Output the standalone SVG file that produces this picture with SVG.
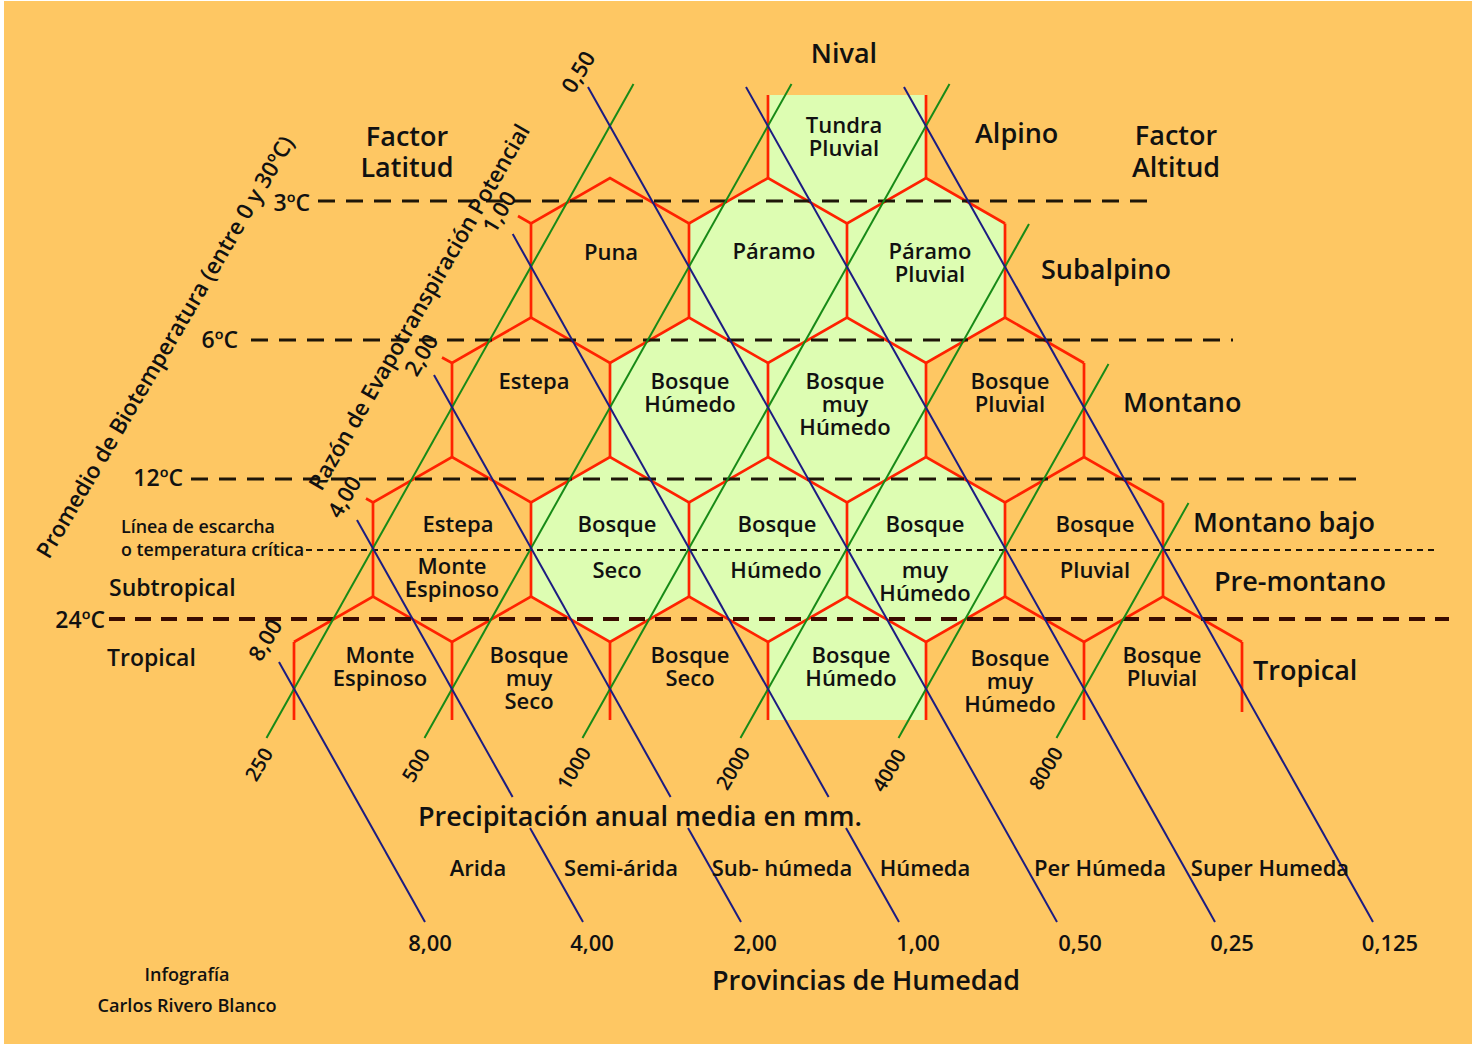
<svg xmlns="http://www.w3.org/2000/svg" width="1474" height="1044" viewBox="0 0 1474 1044">
<style>
.t{font-family:"Open Sans","Noto Sans","DejaVu Sans",sans-serif;font-weight:600;fill:#111}
.hz{font-size:22px;text-anchor:middle}
.big{font-size:27px}
.mid{text-anchor:middle}
.end{text-anchor:end}
.lab{font-size:23px}
.sm{font-size:17.5px}
.num{font-size:22px;text-anchor:middle}
.gnum{font-size:20px;text-anchor:middle}
.fill{fill:#DDFDB2;stroke:none}
.nofill{fill:none;stroke:none}
.red{fill:none;stroke:#FF2200;stroke-width:2.7;stroke-linejoin:miter}
.blue{fill:none;stroke:#1C1C82;stroke-width:2}
.green{fill:none;stroke:#178A17;stroke-width:2}
.dash{stroke:#1E1608;stroke-width:3;stroke-dasharray:17 11;fill:none}
.dash24{stroke:#3A0C00;stroke-width:4;stroke-dasharray:16 10;fill:none}
.frost{stroke:#1E1608;stroke-width:2;stroke-dasharray:6 5;fill:none}
</style>
<rect x="0" y="0" width="1474" height="1044" fill="#FFFFFF"/>
<rect x="4" y="1" width="1468" height="1043" fill="#FEC763"/>

<g id="zones">
  <g id="zone-tundra-pluvial">
    <polygon class="fill" points="768,95 926,95 926,178 847,223.5 768,178"/>
    <text class="t hz" x="844" y="133">Tundra<tspan x="844" dy="23">Pluvial</tspan></text>
  </g>
  <g id="zone-puna">
    <polygon class="nofill" points="610,178 689,223.5 689,317.5 610,363 531,317.5 531,223.5"/>
    <text class="t hz" x="611" y="260">Puna</text>
  </g>
  <g id="zone-paramo">
    <polygon class="fill" points="768,178 847,223.5 847,317.5 768,363 689,317.5 689,223.5"/>
    <text class="t hz" x="774" y="259">Páramo</text>
  </g>
  <g id="zone-paramo-pluvial">
    <polygon class="fill" points="926,178 1005,223.5 1005,317.5 926,363 847,317.5 847,223.5"/>
    <text class="t hz" x="930" y="259">Páramo<tspan x="930" dy="23">Pluvial</tspan></text>
  </g>
  <g id="zone-montano-estepa">
    <polygon class="nofill" points="531,317.5 610,363 610,457 531,502.5 452,457 452,363"/>
    <text class="t hz" x="534" y="389">Estepa</text>
  </g>
  <g id="zone-montano-bosque-humedo">
    <polygon class="fill" points="689,317.5 768,363 768,457 689,502.5 610,457 610,363"/>
    <text class="t hz" x="690" y="389">Bosque<tspan x="690" dy="23">Húmedo</tspan></text>
  </g>
  <g id="zone-montano-bosque-muy-humedo">
    <polygon class="fill" points="847,317.5 926,363 926,457 847,502.5 768,457 768,363"/>
    <text class="t hz" x="845" y="389">Bosque<tspan x="845" dy="23">muy</tspan><tspan x="845" dy="23">Húmedo</tspan></text>
  </g>
  <g id="zone-montano-bosque-pluvial">
    <polygon class="nofill" points="1005,317.5 1084,363 1084,457 1005,502.5 926,457 926,363"/>
    <text class="t hz" x="1010" y="389">Bosque<tspan x="1010" dy="23">Pluvial</tspan></text>
  </g>
  <g id="zone-bajo-estepa-monte-espinoso">
    <polygon class="nofill" points="452,457 531,502.5 531,596.5 452,642 373,596.5 373,502.5"/>
    <text class="t hz" x="458" y="532">Estepa</text>
    <text class="t hz" x="452" y="574">Monte<tspan x="452" dy="23">Espinoso</tspan></text>
  </g>
  <g id="zone-bajo-bosque-seco">
    <polygon class="fill" points="610,457 689,502.5 689,596.5 610,642 531,596.5 531,502.5"/>
    <text class="t hz" x="617" y="532">Bosque</text>
    <text class="t hz" x="617" y="578">Seco</text>
  </g>
  <g id="zone-bajo-bosque-humedo">
    <polygon class="fill" points="768,457 847,502.5 847,596.5 768,642 689,596.5 689,502.5"/>
    <text class="t hz" x="777" y="532">Bosque</text>
    <text class="t hz" x="776" y="578">Húmedo</text>
  </g>
  <g id="zone-bajo-bosque-muy-humedo">
    <polygon class="fill" points="926,457 1005,502.5 1005,596.5 926,642 847,596.5 847,502.5"/>
    <text class="t hz" x="925" y="532">Bosque</text>
    <text class="t hz" x="925" y="578">muy<tspan x="925" dy="23">Húmedo</tspan></text>
  </g>
  <g id="zone-bajo-bosque-pluvial">
    <polygon class="nofill" points="1084,457 1163,502.5 1163,596.5 1084,642 1005,596.5 1005,502.5"/>
    <text class="t hz" x="1095" y="532">Bosque</text>
    <text class="t hz" x="1095" y="578">Pluvial</text>
  </g>
  <g id="zone-tropical-monte-espinoso">
    <polygon class="nofill" points="373,596.5 452,642 452,720 294,720 294,642"/>
    <text class="t hz" x="380" y="663">Monte<tspan x="380" dy="23">Espinoso</tspan></text>
  </g>
  <g id="zone-tropical-bosque-muy-seco">
    <polygon class="nofill" points="531,596.5 610,642 610,720 452,720 452,642"/>
    <text class="t hz" x="529" y="663">Bosque<tspan x="529" dy="23">muy</tspan><tspan x="529" dy="23">Seco</tspan></text>
  </g>
  <g id="zone-tropical-bosque-seco">
    <polygon class="nofill" points="689,596.5 768,642 768,720 610,720 610,642"/>
    <text class="t hz" x="690" y="663">Bosque<tspan x="690" dy="23">Seco</tspan></text>
  </g>
  <g id="zone-tropical-bosque-humedo">
    <polygon class="fill" points="847,596.5 926,642 926,720 768,720 768,642"/>
    <text class="t hz" x="851" y="663">Bosque<tspan x="851" dy="23">Húmedo</tspan></text>
  </g>
  <g id="zone-tropical-bosque-muy-humedo">
    <polygon class="nofill" points="1005,596.5 1084,642 1084,720 926,720 926,642"/>
    <text class="t hz" x="1010" y="666">Bosque<tspan x="1010" dy="23">muy</tspan><tspan x="1010" dy="23">Húmedo</tspan></text>
  </g>
  <g id="zone-tropical-bosque-pluvial">
    <polygon class="nofill" points="1163,596.5 1242,642 1242,712 1084,720 1084,642"/>
    <text class="t hz" x="1162" y="663">Bosque<tspan x="1162" dy="23">Pluvial</tspan></text>
  </g>
</g>

<g id="hex-grid" class="red">
  <path d="M768,95V178M926,95V178"/>
  <path d="M518,216L531,223.5L610,178L689,223.5L768,178L847,223.5L926,178L1005,223.5"/>
  <path d="M531,223.5V317.5M689,223.5V317.5M847,223.5V317.5M1005,223.5V317.5"/>
  <path d="M442,357.5L452,363L531,317.5L610,363L689,317.5L768,363L847,317.5L926,363L1005,317.5L1084,363"/>
  <path d="M452,363V457M610,363V457M768,363V457M926,363V457M1084,363V457"/>
  <path d="M366,498.5L373,502.5L452,457L531,502.5L610,457L689,502.5L768,457L847,502.5L926,457L1005,502.5L1084,457L1163,502.5"/>
  <path d="M373,502.5V596.5M531,502.5V596.5M689,502.5V596.5M847,502.5V596.5M1005,502.5V596.5M1163,502.5V596.5"/>
  <path d="M294,642L373,596.5L452,642L531,596.5L610,642L689,596.5L768,642L847,596.5L926,642L1005,596.5L1084,642L1163,596.5L1242,642"/>
  <path d="M294,642V720M452,642V720M610,642V720M768,642V720M926,642V720M1084,642V720M1242,642V712"/>
</g>

<g id="temperature-lines">
  <line class="dash" x1="318" y1="201" x2="1155" y2="201"/>
  <line class="dash" x1="251" y1="340" x2="1233" y2="340"/>
  <line class="dash" x1="191" y1="479" x2="1362" y2="479"/>
  <line class="frost" x1="306" y1="550" x2="1438" y2="550"/>
  <line class="dash24" x1="109" y1="619" x2="1449" y2="619"/>
</g>

<g id="connectors">
  <g id="precipitation-lines" class="green">
    <line x1="266.5" y1="738" x2="633.5" y2="84"/>
    <line x1="424.5" y1="738" x2="791.5" y2="84"/>
    <line x1="582.5" y1="738" x2="949.5" y2="84"/>
    <line x1="740.5" y1="738" x2="1029" y2="224"/>
    <line x1="898.5" y1="738" x2="1108.5" y2="364"/>
    <line x1="1056.5" y1="738" x2="1188.5" y2="503"/>
  </g>
  <g id="pet-lines" class="blue">
    <line x1="279" y1="662" x2="425" y2="922"/>
    <line x1="357" y1="520" x2="512.6" y2="797"/>
    <line x1="530" y1="828" x2="583" y2="922"/>
    <line x1="434" y1="375" x2="670.6" y2="797"/>
    <line x1="688" y1="828" x2="741" y2="922"/>
    <line x1="512.7" y1="234" x2="828.6" y2="797"/>
    <line x1="846" y1="828" x2="899" y2="922"/>
    <line x1="588" y1="87" x2="1057" y2="922"/>
    <line x1="746" y1="87" x2="1215" y2="922"/>
    <line x1="904" y1="87" x2="1373" y2="922"/>
  </g>
</g>

<g id="labels">
  <text class="t big mid" x="844" y="63">Nival</text>
  <text class="t big mid" x="407" y="146">Factor<tspan x="407" dy="31">Latitud</tspan></text>
  <text class="t big mid" x="1176" y="145">Factor<tspan x="1176" dy="32">Altitud</tspan></text>
  <text class="t big" x="975" y="143">Alpino</text>
  <text class="t big" x="1041" y="279">Subalpino</text>
  <text class="t big" x="1123" y="412">Montano</text>
  <text class="t big" x="1193" y="532">Montano bajo</text>
  <text class="t big" x="1214" y="591">Pre-montano</text>
  <text class="t big" x="1253" y="680">Tropical</text>

  <text class="t lab end" x="310" y="211">3ºC</text>
  <text class="t lab end" x="238" y="348">6ºC</text>
  <text class="t lab end" x="183" y="486">12ºC</text>
  <text class="t lab end" x="105" y="628">24ºC</text>
  <text class="t sm" x="121" y="533" textLength="154" lengthAdjust="spacingAndGlyphs">Línea de escarcha</text>
  <text class="t sm" x="121" y="556" textLength="183" lengthAdjust="spacingAndGlyphs">o temperatura crítica</text>
  <text class="t lab" x="109" y="596">Subtropical</text>
  <text class="t lab" x="107" y="666">Tropical</text>

  <text class="t mid" style="font-size:22.5px" transform="translate(172,351) rotate(-59.5)" textLength="485" lengthAdjust="spacingAndGlyphs">Promedio de Biotemperatura (entre 0 y 30ºC)</text>
  <text class="t mid" style="font-size:22.5px" transform="translate(426,311) rotate(-60)" textLength="418" lengthAdjust="spacingAndGlyphs">Razón de Evapotranspiración Potencial</text>

  <text class="t num" transform="translate(585,76) rotate(-59)">0,50</text>
  <text class="t num" transform="translate(506,216) rotate(-59)">1,00</text>
  <text class="t num" transform="translate(428,359) rotate(-59)">2,00</text>
  <text class="t num" transform="translate(351,501) rotate(-59)">4,00</text>
  <text class="t num" transform="translate(272,644) rotate(-59)">8,00</text>

  <text class="t gnum" transform="translate(265,768) rotate(-59)">250</text>
  <text class="t gnum" transform="translate(422,769) rotate(-59)">500</text>
  <text class="t gnum" transform="translate(580,772) rotate(-59)">1000</text>
  <text class="t gnum" transform="translate(739,772) rotate(-59)">2000</text>
  <text class="t gnum" transform="translate(895,774) rotate(-59)">4000</text>
  <text class="t gnum" transform="translate(1052,772) rotate(-59)">8000</text>

  <text class="t" style="font-size:26.5px" x="418" y="826" textLength="444" lengthAdjust="spacingAndGlyphs">Precipitación anual media en mm.</text>

  <text class="t num" x="478" y="876">Arida</text>
  <text class="t num" x="621" y="876">Semi-árida</text>
  <text class="t num" x="782" y="876">Sub- húmeda</text>
  <text class="t num" x="925" y="876">Húmeda</text>
  <text class="t num" x="1100" y="876">Per Húmeda</text>
  <text class="t num" x="1270" y="876">Super Humeda</text>

  <text class="t num" x="430" y="951">8,00</text>
  <text class="t num" x="592" y="951">4,00</text>
  <text class="t num" x="755" y="951">2,00</text>
  <text class="t num" x="918" y="951">1,00</text>
  <text class="t num" x="1080" y="951">0,50</text>
  <text class="t num" x="1232" y="951">0,25</text>
  <text class="t num" x="1390" y="951">0,125</text>

  <text class="t mid" style="font-size:27px" x="866" y="990" textLength="308" lengthAdjust="spacingAndGlyphs">Provincias de Humedad</text>
  <text class="t sm mid" x="187" y="981" textLength="85" lengthAdjust="spacingAndGlyphs">Infografía</text>
  <text class="t sm mid" x="187" y="1012" textLength="179" lengthAdjust="spacingAndGlyphs">Carlos Rivero Blanco</text>
</g>
</svg>
